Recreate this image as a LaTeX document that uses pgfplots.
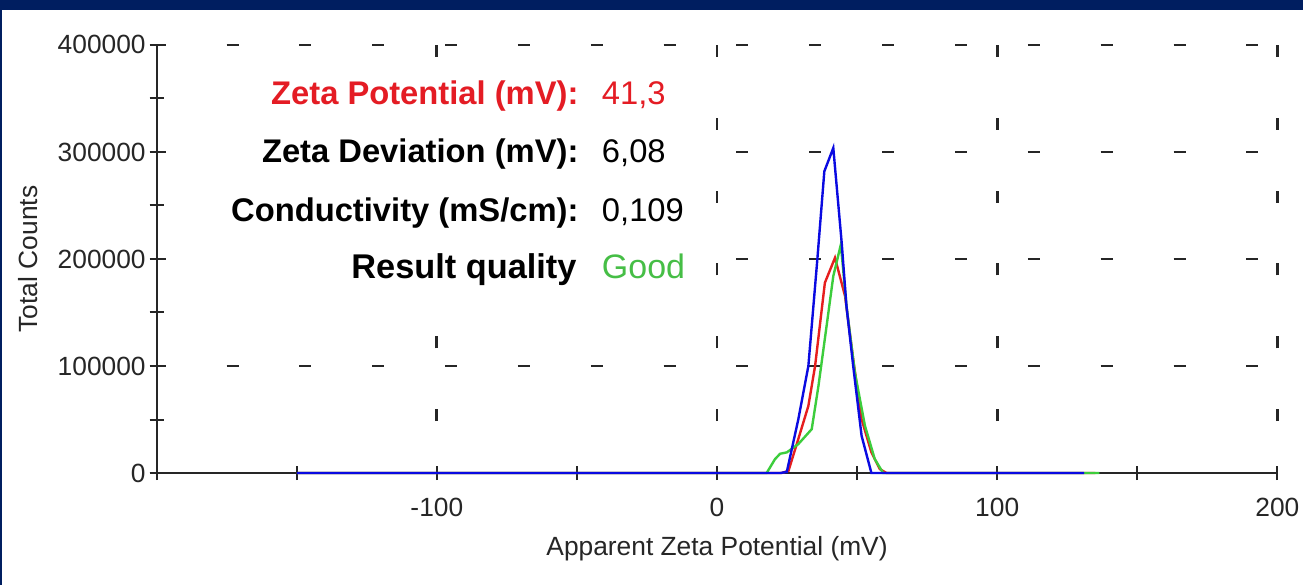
\documentclass[border=0pt]{standalone}
\usepackage{fontspec}
\setmainfont{Liberation Sans}
\usepackage{pgfplots}
\pgfplotsset{compat=1.18}
\definecolor{navyframe}{RGB}{0,30,96}
\definecolor{zred}{RGB}{228,28,36}
\definecolor{zgreen}{RGB}{70,190,70}
\definecolor{zblue}{RGB}{10,10,225}
\definecolor{cred}{RGB}{230,30,30}
\definecolor{cgreen}{RGB}{60,205,60}
\begin{document}
\begin{tikzpicture}
\fill[white] (0,0) rectangle (653pt,293pt);
\fill[navyframe] (0,288pt) rectangle (653pt,293pt);
\fill[navyframe] (0,0) rectangle (0.8pt,293pt);
\begin{axis}[
  at={(78.5pt,56pt)}, anchor=south west,
  scale only axis, width=561.5pt, height=214.5pt,
  xmin=-200, xmax=200, ymin=0, ymax=400000,
  scaled y ticks=false, scaled x ticks=false,
  axis x line*=bottom, axis y line*=left,
  axis line style={line width=1pt, black!85},
  every tick/.style={line width=1pt, black!85},
  tick align=center,
  major tick length=7pt, minor tick length=7pt,
  xtick={-100,0,100,200}, xticklabels={-100,0,100,200},
  minor xtick={-200,-150,-50,50,150},
  ytick={100000,200000,300000,400000},
  yticklabels={100000,200000,300000,400000},
  minor ytick={0,50000,150000,250000,350000},
  extra y ticks={0}, extra y tick labels={0},
  extra tick style={grid=none},
  xmajorgrids, ymajorgrids,
  x grid style={line width=1.4pt, black!85, dash pattern=on 6pt off 30.5pt, dash phase=10.5pt},
  y grid style={line width=1.4pt, black!85, dash pattern=on 6pt off 30.5pt, dash phase=1.5pt},
  ticklabel style={font=\fontsize{13.2}{15}\selectfont, text=black!85},
  xticklabel style={yshift=-5.5pt},
  yticklabel style={xshift=1.5pt},
  xlabel={Apparent Zeta Potential (mV)},
  ylabel={Total Counts},
  label style={font=\fontsize{13.2}{15}\selectfont, text=black!85},
  xlabel style={at={(axis description cs:0.5,-0.1772)}, anchor=center},
  ylabel style={at={(axis description cs:-0.1149,0.5)}, anchor=center},
  clip=false,
]
\addplot[cred, line width=1.2pt] coordinates {
(-150,0) (23,0) (25.5,2000) (29,31700) (32.6,62700) (35,100000) (38.5,177800) (42.1,201100) (45.7,165300) (48.6,106300) (51.6,50300) (55.1,19300) (58.1,3700) (60.5,0) (135,0)};
\addplot[cgreen, line width=1.2pt] coordinates {
(-150,0) (17.7,0) (20.7,13000) (22.5,18000) (24.9,19300) (29,27000) (33.8,41000) (36.2,81400) (39.1,137300) (41.5,184000) (44.2,213500) (46.2,156000) (49.2,93900) (52.8,44100) (56.3,13000) (59.3,0) (136.5,0)};
\addplot[zblue, line width=1.2pt] coordinates {
(-150,0) (22.5,0) (24.9,1000) (29,50000) (32.6,100000) (35.8,199500) (38.3,281900) (41.5,303700) (44.5,215000) (46.2,156000) (48.6,100000) (51.6,34800) (55.1,0) (131,0)};
\fill[white] (axis cs:-196,167000) rectangle (axis cs:-5,384000);
\begin{scope}[font=\fontsize{16.4}{19}\selectfont]
\node[anchor=base east, text=zred, inner sep=0pt] at (axis cs:-49.3,344240) {\bfseries Zeta Potential (mV):};
\node[anchor=base west, text=zred, inner sep=0pt] at (axis cs:-41.2,344240) {41,3};
\node[anchor=base east, text=black, inner sep=0pt] at (axis cs:-49.3,290160) {\bfseries Zeta Deviation (mV):};
\node[anchor=base west, text=black, inner sep=0pt] at (axis cs:-41.2,290160) {6,08};
\node[anchor=base east, text=black, inner sep=0pt] at (axis cs:-49.3,235150) {\bfseries Conductivity (mS/cm):};
\node[anchor=base west, text=black, inner sep=0pt] at (axis cs:-41.2,235150) {0,109};
\node[anchor=base east, text=black, inner sep=0pt, font=\fontsize{17.2}{20}\selectfont\bfseries] at (axis cs:-50,181500) {Result quality};
\node[anchor=base west, text=zgreen, inner sep=0pt, font=\fontsize{17}{20}\selectfont] at (axis cs:-41.2,181500) {Good};
\end{scope}
\end{axis}
\end{tikzpicture}
\end{document}
